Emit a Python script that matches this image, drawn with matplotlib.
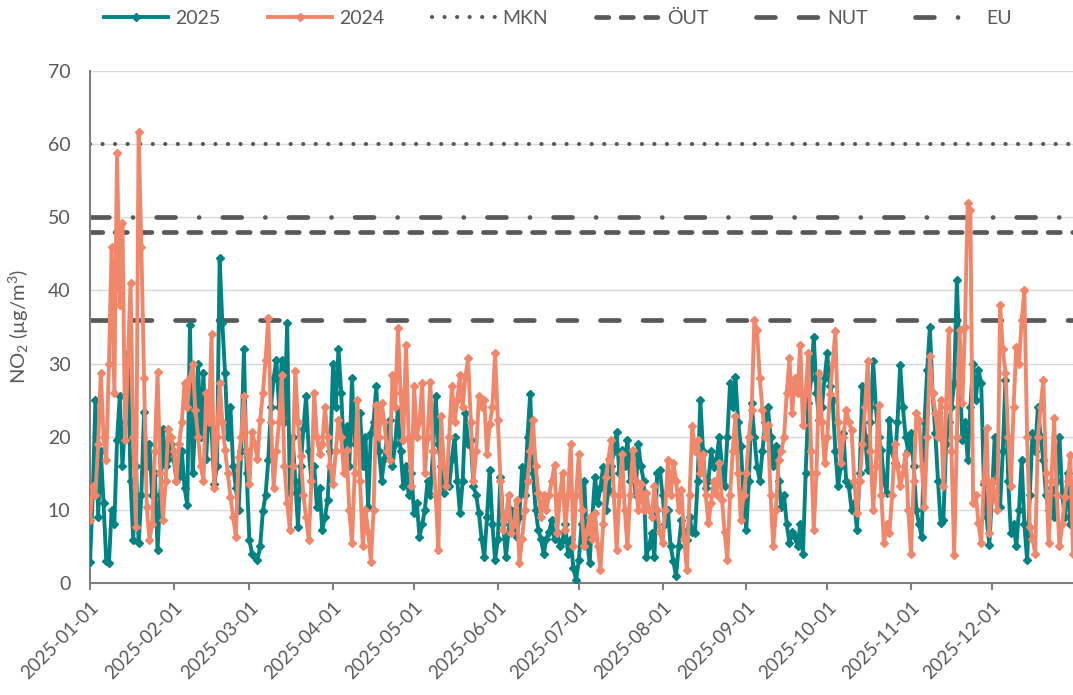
import matplotlib
matplotlib.use('Agg')
import matplotlib.pyplot as plt
import matplotlib.dates as mdates
import pandas as pd

plt.rcParams['font.family'] = ['Lato', 'DejaVu Sans']
plt.rcParams['mathtext.default'] = 'regular'

GREY = '#595959'
TEAL = '#008382'
SALMON = '#F0876A'

dates = pd.date_range('2025-01-01', '2025-12-31', freq='D')

# daily NO2 (µg/m3)
no2_2025 = [
    2.8, 12, 25, 9, 18, 11, 3.0, 2.7, 10, 8,
    19.5, 25.5, 16, 22, 31.4, 14, 5.9, 16, 5.4, 12,
    23.4, 16, 19, 12, 15, 4.5, 12, 21, 16, 17,
    19, 17, 14, 14.5, 18, 13, 10.7, 35.3, 15, 22,
    30, 20, 28.7, 17, 24, 21, 13.6, 16, 44.4, 35.5,
    28.7, 20, 24, 16, 13, 10, 18, 32, 15, 5.9,
    4, 3.5, 3.1, 5, 9.8, 12, 16.8, 24, 28, 30.5,
    24, 30.5, 22, 35.5, 12.3, 20, 14, 7.7, 16, 21,
    25.5, 18, 14, 16, 10.4, 13, 7.3, 9, 11.4, 18,
    30, 24, 32, 26, 18, 21.4, 16, 28, 19, 22,
    23.2, 16, 20, 10.4, 20.5, 22, 26.9, 18, 14, 17,
    20, 22.3, 16, 19, 23.7, 18, 13.2, 16, 12, 15,
    9.5, 11, 6.3, 8, 10, 14, 12, 18, 25.5, 19,
    16, 12.3, 15, 13.2, 17, 20, 14, 9.5, 14, 23.2,
    19, 19.6, 13.2, 12, 9.5, 6, 3.6, 9, 15.5, 8,
    3.1, 6, 14.5, 8, 3.6, 7, 10, 8, 6.3, 9,
    15.9, 12, 20, 25.9, 15, 10, 7.3, 6, 4, 6,
    7, 8.6, 6, 7, 5, 5.9, 8, 4, 6, 2,
    0.4, 3.1, 8, 14, 6, 2.7, 9, 14.5, 11, 13,
    15.9, 10, 12.7, 16, 18, 20.7, 15, 18.2, 16, 19.6,
    14, 17.7, 12, 19, 16, 14, 3.6, 5, 6.8, 3.6,
    15, 15.5, 12, 8, 10, 5, 3, 0.9, 5, 8.6,
    7, 5.9, 9, 7, 6.8, 14, 25, 18, 13, 14,
    18, 15.9, 17, 20, 16, 13.2, 20, 27.3, 24, 28.2,
    22, 18.7, 12, 7.3, 14, 24.6, 20, 15.9, 14, 18,
    22, 24.1, 20, 16, 18.7, 14, 10.4, 12, 8, 5.4,
    7, 6.3, 5, 8, 4, 15, 24.6, 28, 33.7, 26,
    22.3, 24, 28, 31.4, 27, 25, 18, 13.2, 16, 20.5,
    14, 13.2, 10, 11, 7.3, 15, 26.9, 20, 15.5, 22,
    30.3, 24, 20, 18.2, 14, 12.3, 22.3, 18, 16.4, 22,
    29.8, 24, 20, 18, 20.5, 16, 10, 8, 6.3, 22,
    29.1, 35, 26, 20.5, 14, 8.2, 8.6, 19, 22, 24,
    27.3, 41.4, 30, 19.6, 22, 16.8, 24, 30, 25, 29.1,
    27.3, 13.6, 9, 5.2, 12, 20, 14, 10.4, 18, 27.8,
    14, 6.8, 8, 5, 10, 16.8, 8, 3.1, 12, 20.5,
    18, 24.1, 20, 16.8, 12, 10, 13, 9, 14, 20,
    12, 9, 15, 8, 11,
]

no2_2024 = [
    8.6, 13.2, 12, 19, 28.7, 20, 16.8, 30, 46, 26,
    58.8, 38, 49.2, 19.6, 30, 41, 20, 7.7, 61.7, 46,
    28, 10.4, 5.9, 8, 18, 28.9, 15, 8.6, 14, 21,
    20, 18, 14, 19, 22, 27.3, 24, 28, 30, 23.7,
    20, 16, 14, 26, 22, 34, 13, 20, 27.3, 22,
    18.2, 15, 11.8, 9, 6.3, 17.2, 20, 25.5, 18, 13.6,
    20.7, 19, 17, 22.3, 26, 30.5, 36.2, 22, 13, 18,
    22, 28.5, 16, 11, 7.3, 16, 29, 22, 17.3, 12,
    9, 5.9, 14, 26, 20, 17.7, 19, 24, 20, 16,
    13.6, 18, 22.3, 20, 15, 18.2, 10, 5.4, 15, 25,
    14, 5, 10, 7, 2.9, 10, 24.4, 20, 24.6, 22,
    18, 16.8, 28.5, 24, 34.8, 26, 19.6, 32.6, 20, 13.2,
    26.9, 20, 22, 27.3, 15, 20, 27.5, 18, 12, 4.5,
    22.8, 16, 13.2, 20, 26.9, 22, 25, 28.5, 24.1, 28.2,
    30.7, 22, 14, 18, 25.5, 24, 25, 17.7, 21.8, 24,
    31.4, 22.3, 14, 7.3, 9, 12, 6.8, 8, 11.4, 2.7,
    6, 10, 14, 18, 22.3, 16, 12.3, 9, 12, 10,
    12, 14, 16.1, 6.8, 12, 15, 7.3, 12, 19, 5,
    12, 17.7, 10, 5, 7, 9, 6, 9.5, 5, 1.8,
    8, 14.5, 17, 19.6, 12, 4.5, 12, 17.7, 10, 5,
    12, 18.2, 14, 10, 13.6, 10, 12.3, 10, 9, 13.2,
    10, 7, 5.4, 10, 16.8, 12, 16.4, 14, 10, 12.7,
    6, 1.8, 12, 21.4, 18, 19.6, 15, 17.7, 12, 8.2,
    11, 14, 12, 16.4, 11.4, 7, 3.1, 12, 18, 22.8,
    15, 8.6, 12, 15, 20, 23.7, 36, 34.6, 28, 23.7,
    20, 21.6, 12, 5, 10, 16.8, 18, 20, 26, 30.7,
    23.2, 28, 26, 32.6, 21.6, 26, 31.4, 18, 7.3, 15,
    28.7, 22, 16.4, 20, 25.9, 30, 34.4, 22, 16.4, 20,
    23.7, 22, 20.9, 14, 9.5, 14, 19, 24, 30.3, 18,
    10, 16, 24.4, 12, 5.4, 8, 6.8, 12, 19, 16,
    13.2, 15, 17.7, 10, 4, 14, 23.2, 22.3, 16, 10.4,
    20, 31, 26, 23.2, 20, 25, 13.2, 24, 34.6, 18,
    3.8, 20, 34.6, 24.6, 35, 51.9, 51, 10.9, 12, 8.2,
    5.4, 14, 21.2, 6.8, 14, 12, 10, 38, 32, 28.7,
    20, 13.2, 24.1, 32.3, 30, 36, 40, 20, 7.7, 6,
    4, 20, 24, 27.8, 15, 5.4, 14, 22.5, 12, 5,
    8, 11.8, 14, 17.5, 4,
]

limit_names = ['MKN', 'ÖUT', 'NUT', 'EU']
limit_values = [60, 48, 36, 50]

# line style per limit: (dash pattern, width)
limit_styles = {
    'MKN': ((0, (0.01, 3.0)), 3.0),
    'ÖUT': ((0, (2.6, 2.6)), 3.4),
    'NUT': ((0, (4, 5)), 3.4),
    'EU': ((0, (4, 5, 0.01, 5)), 3.4),
}

fig = plt.figure(figsize=(10.73, 6.95), dpi=100)
ax = fig.add_axes([0.0839, 0.1612, 0.9161, 0.7366])

handles = []
h, = ax.plot(dates, no2_2025, color=TEAL, lw=2.8, marker='D', ms=4.5, label='2025', zorder=3)
handles.append(h)
h, = ax.plot(dates, no2_2024, color=SALMON, lw=2.8, marker='D', ms=4.5, label='2024', zorder=4)
handles.append(h)

for name, val in zip(limit_names, limit_values):
    ls, lw = limit_styles[name]
    h = ax.axhline(val, color=GREY, lw=lw, linestyle=ls,
                   dash_capstyle='round', label=name, zorder=2)
    handles.append(h)

ax.set_ylim(0, 70)
ax.set_yticks(range(0, 71, 10))
ax.set_xlim(dates[0], dates[-1])
ax.xaxis.set_major_locator(mdates.MonthLocator())
ax.xaxis.set_major_formatter(mdates.DateFormatter('%Y-%m-%d'))

ax.yaxis.grid(True, color='#D9D9D9', lw=1)
ax.set_axisbelow(True)
for s in ['top', 'right']:
    ax.spines[s].set_visible(False)
for s in ['left', 'bottom']:
    ax.spines[s].set_color('#7F7F7F')
    ax.spines[s].set_linewidth(1.5)

ax.tick_params(axis='y', length=0, pad=14, labelsize=14, labelcolor=GREY)
ax.tick_params(axis='x', length=5, width=1.5, color='#7F7F7F', pad=6,
               labelsize=13.5, labelcolor=GREY)
for lab in ax.get_xticklabels():
    lab.set_rotation(45)
    lab.set_ha('right')
    lab.set_rotation_mode('anchor')

fig.text(0.018, 0.53, 'NO$_2$ (µg/m$^3$)', rotation=90, ha='center', va='center',
         fontsize=14.5, color=GREY)

fig.legend(handles=handles, loc='center', bbox_to_anchor=(0.52, 0.974), ncol=6,
           frameon=False, fontsize=14, labelcolor=GREY, handlelength=3.3,
           columnspacing=2.45, handletextpad=0.35)

fig.savefig('out.png', dpi=100)
